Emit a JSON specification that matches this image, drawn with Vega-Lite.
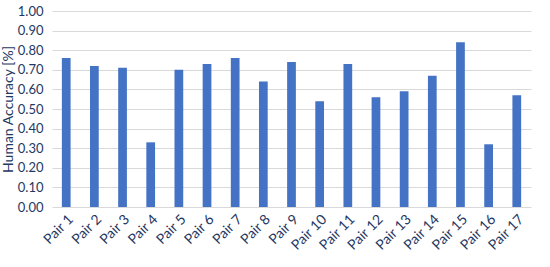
{
  "$schema": "https://vega.github.io/schema/vega-lite/v6.json",
  "width": 550,
  "height": 267,
  "autosize": {"type": "fit", "contains": "padding"},
  "padding": {"left": 1, "top": 5, "right": 19, "bottom": 14},
  "background": "white",
  "data": {"values": [
    {"pair": "Pair 1", "acc": 0.76},
    {"pair": "Pair 2", "acc": 0.72},
    {"pair": "Pair 3", "acc": 0.71},
    {"pair": "Pair 4", "acc": 0.33},
    {"pair": "Pair 5", "acc": 0.70},
    {"pair": "Pair 6", "acc": 0.73},
    {"pair": "Pair 7", "acc": 0.76},
    {"pair": "Pair 8", "acc": 0.64},
    {"pair": "Pair 9", "acc": 0.74},
    {"pair": "Pair 10", "acc": 0.54},
    {"pair": "Pair 11", "acc": 0.73},
    {"pair": "Pair 12", "acc": 0.56},
    {"pair": "Pair 13", "acc": 0.59},
    {"pair": "Pair 14", "acc": 0.67},
    {"pair": "Pair 15", "acc": 0.84},
    {"pair": "Pair 16", "acc": 0.32},
    {"pair": "Pair 17", "acc": 0.57}
  ]},
  "mark": {"type": "bar", "color": "#4472C4"},
  "encoding": {
    "x": {
      "field": "pair", "type": "nominal", "sort": null,
      "scale": {"paddingInner": 0.69, "paddingOuter": 0.35},
      "axis": {"title": null, "labelAngle": -45, "labelOverlap": false, "domain": false, "ticks": false, "labelPadding": 5, "labelFont": "Lato", "labelFontSize": 14, "labelColor": "#1F3864"}
    },
    "y": {
      "field": "acc", "type": "quantitative",
      "scale": {"domain": [0, 1]},
      "axis": {"title": "Human Accuracy [%]", "format": ".2f", "values": [0,0.1,0.2,0.3,0.4,0.5,0.6,0.7,0.8,0.9,1.0], "domain": false, "ticks": false, "labelPadding": 9, "labelFont": "Lato", "labelFontSize": 13, "labelColor": "#1F3864", "titleFont": "Lato", "titleFontSize": 14, "titleFontWeight": "normal", "titleColor": "#1F3864", "titlePadding": 2, "gridColor": "#D9D9D9"}
    }
  },
  "config": {"view": {"stroke": null}}
}
